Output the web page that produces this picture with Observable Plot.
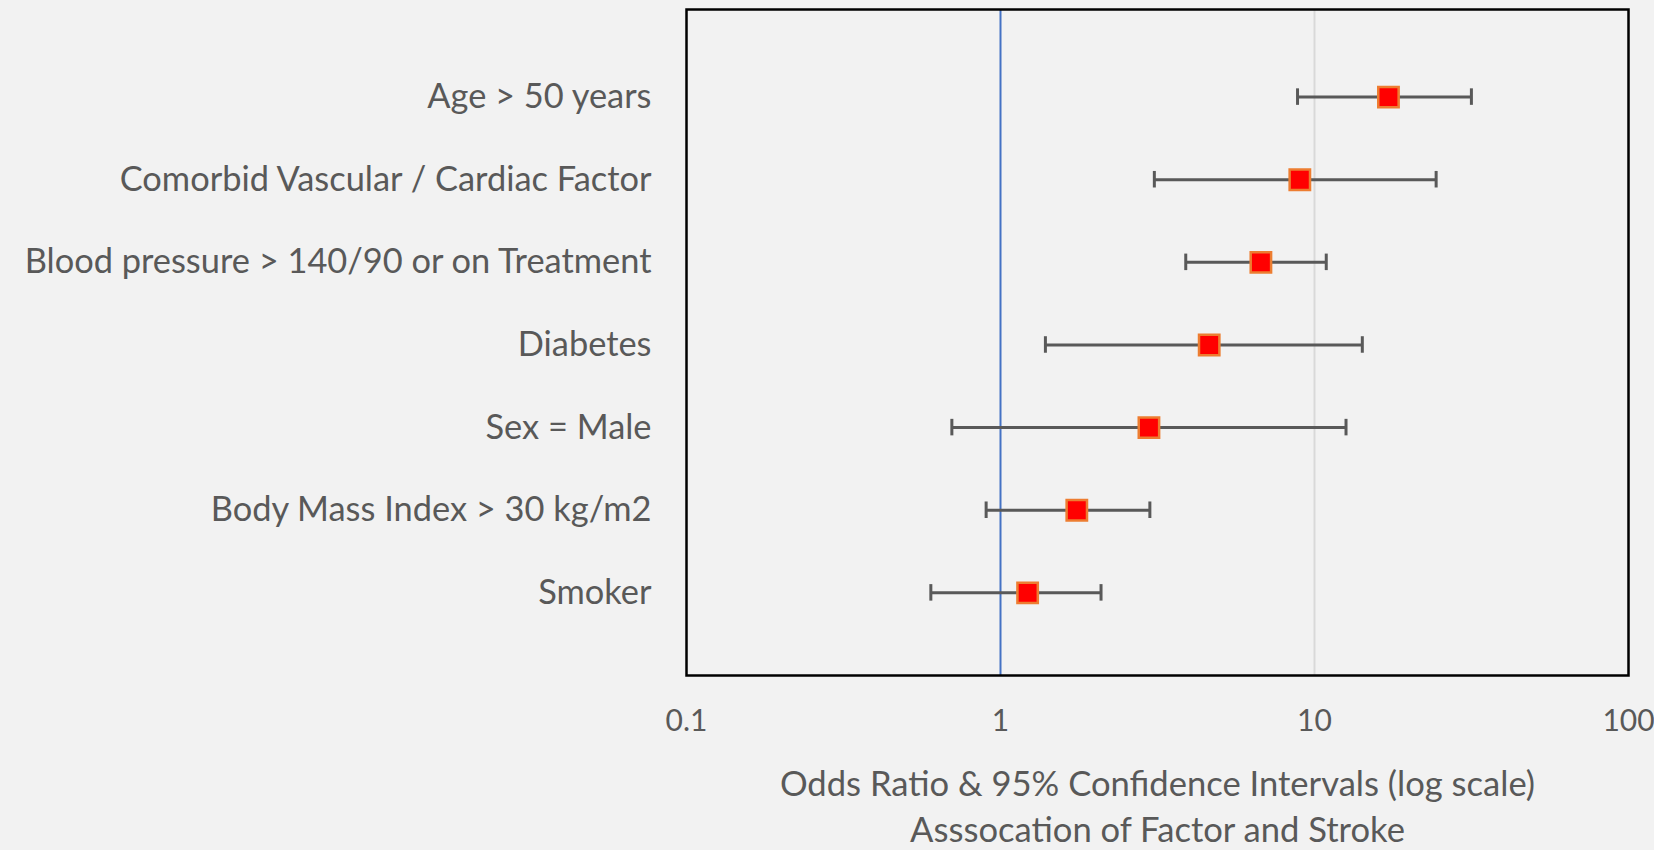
<!DOCTYPE html>
<html>
<head>
<meta charset="utf-8">
<script src="https://cdn.jsdelivr.net/npm/d3@7"></script>
<script src="https://cdn.jsdelivr.net/npm/@observablehq/plot@0.6"></script>
<style>
  html, body { margin: 0; padding: 0; background: #f2f2f2; }
  #chart svg { display: block; overflow: visible; }
</style>
</head>
<body>
<div id="chart"></div>
<script>
const factors = [
  "Age > 50 years",
  "Comorbid Vascular / Cardiac Factor",
  "Blood pressure > 140/90 or on Treatment",
  "Diabetes",
  "Sex = Male",
  "Body Mass Index > 30 kg/m2",
  "Smoker"
];
const oddsRatio = [17.2, 8.98, 6.75, 4.62, 2.97, 1.75, 1.22];
const ciLow     = [8.83, 3.09, 3.89, 1.39, 0.70, 0.90, 0.60];
const ciHigh    = [31.6, 24.4, 10.9, 14.2, 12.6, 2.99, 2.09];
const xTicks = [0.1, 1, 10, 100];
const xTickLabels = ["0.1", "1", "10", "100"];
const axisTitle = ["Odds Ratio & 95% Confidence Intervals (log scale)", "Asssocation of Factor and Stroke"];

const data = factors.map((f, i) => ({
  factor: f,
  pos: factors.length - i,
  or: oddsRatio[i],
  lo: ciLow[i],
  hi: ciHigh[i]
}));

const textColor = "#595959";
const capHalf = 0.1;

const chart = Plot.plot({
  width: 1654,
  height: 850,
  marginLeft: 686,
  marginRight: 26,
  marginTop: 9,
  marginBottom: 175,
  x: { type: "log", domain: [0.1, 100] },
  y: { domain: [0, 8.06] },
  style: { background: "#f2f2f2", fontFamily: "Lato, sans-serif", color: textColor, overflow: "visible" },
  marks: [
    Plot.ruleX([10], { stroke: "#d9d9d9", strokeWidth: 2 }),
    Plot.ruleX([1], { stroke: "#4472c4", strokeWidth: 2 }),
    Plot.ruleY(data, { y: "pos", x1: "lo", x2: "hi", stroke: "#595959", strokeWidth: 3 }),
    Plot.ruleX(data, { x: "lo", y1: d => d.pos - capHalf, y2: d => d.pos + capHalf, stroke: "#595959", strokeWidth: 3 }),
    Plot.ruleX(data, { x: "hi", y1: d => d.pos - capHalf, y2: d => d.pos + capHalf, stroke: "#595959", strokeWidth: 3 }),
    Plot.dot(data, { x: "or", y: "pos", symbol: "square", r: 11.5, fill: "#ff0000", stroke: "#ed7d31", strokeWidth: 2.5 }),
    Plot.frame({ stroke: "#000", strokeWidth: 2.5 }),
    Plot.axisX({
      ticks: xTicks,
      tickFormat: d => xTickLabels[xTicks.indexOf(d)],
      tickSize: 0,
      tickPadding: 34,
      fontSize: 30,
      fill: textColor,
      label: null
    }),
    Plot.axisY({
      ticks: data.map(d => d.pos),
      tickFormat: p => data.find(d => d.pos === p).factor,
      tickSize: 0,
      tickPadding: 35,
      fontSize: 34.4,
      fill: textColor,
      label: null
    }),
    Plot.text([axisTitle[0]], { text: d => d, frameAnchor: "bottom", dy: 109, fontSize: 34.6, fill: textColor, lineAnchor: "middle" }),
    Plot.text([axisTitle[1]], { text: d => d, frameAnchor: "bottom", dy: 155, fontSize: 34.6, fill: textColor, lineAnchor: "middle" })
  ]
});

document.getElementById("chart").appendChild(chart);
</script>
</body>
</html>
